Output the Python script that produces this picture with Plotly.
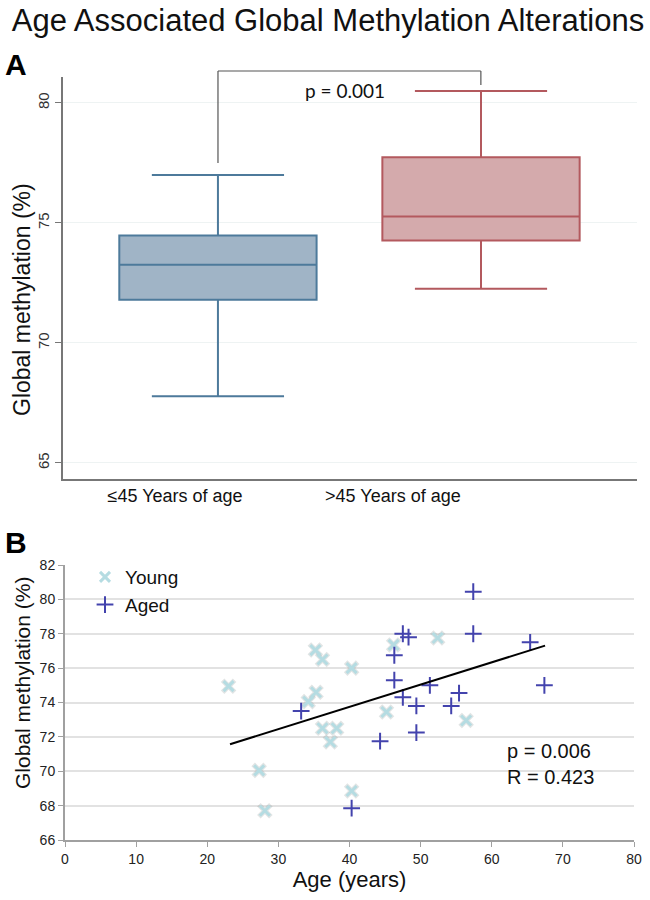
import plotly.graph_objects as go

# Panel A: box summaries
groups = ['≤45 Years of age', '>45 Years of age']
box_q1 = [71.8, 74.27]
box_median = [73.26, 75.27]
box_q3 = [74.48, 77.74]
box_low = [67.78, 72.26]
box_high = [77.0, 80.5]
p_text_a = 'p = 0.001'

# Panel B: individual samples
young_age = [23, 35.2, 36.2, 40.3, 35.3, 34.2, 36.2, 38.2, 37.3, 27.3, 40.3, 28.1, 45.2, 46.2, 52.4, 56.4]
young_meth = [74.95, 77.05, 76.5, 76.0, 74.6, 74.05, 72.5, 72.5, 71.7, 70.05, 68.85, 67.7, 73.45, 77.35, 77.75, 72.95]
aged_age = [33.2, 44.3, 46.3, 46.3, 57.4, 57.4, 47.5, 48.3, 65.4, 67.4, 51.3, 47.5, 49.4, 55.4, 54.3, 49.4, 40.3]
aged_meth = [73.5, 71.75, 76.75, 75.3, 80.45, 78.0, 78.0, 77.8, 77.5, 75.0, 75.0, 74.3, 73.8, 74.55, 73.8, 72.25, 67.85]
fit_age = [23.2, 67.5]
fit_meth = [71.57, 77.31]
stats_b = 'p = 0.006<br>R = 0.423'

box_fill = ['#a0b4c6', '#d4aaac']
box_line = ['#4d7a9b', '#b3595e']
label_pos = [-0.163, 0.665]

W, H = 650, 900


def px_x(x):
    return x / W


def px_y(y):
    return 1 - y / H


fig = go.Figure()

for i in range(2):
    fig.add_trace(go.Box(
        x=[i], q1=[box_q1[i]], median=[box_median[i]], q3=[box_q3[i]],
        lowerfence=[box_low[i]], upperfence=[box_high[i]],
        width=0.75, whiskerwidth=0.67,
        fillcolor=box_fill[i], line=dict(color=box_line[i], width=2),
        xaxis='x', yaxis='y', showlegend=False, hoverinfo='skip'))

# soft shadow under the young markers
fig.add_trace(go.Scatter(
    x=young_age, y=young_meth, mode='markers', xaxis='x2', yaxis='y2',
    marker=dict(symbol='x-thin', size=12, line=dict(color='rgba(120,130,130,0.22)', width=5)),
    showlegend=False, hoverinfo='skip'))
fig.add_trace(go.Scatter(
    x=young_age, y=young_meth, mode='markers', name='Young', xaxis='x2', yaxis='y2',
    marker=dict(symbol='x-thin', size=10, color='#b5dce2', line=dict(color='#b5dce2', width=3))))
fig.add_trace(go.Scatter(
    x=aged_age, y=aged_meth, mode='markers', name='Aged', xaxis='x2', yaxis='y2',
    marker=dict(symbol='cross-thin', size=12, color='#4343ad', line=dict(color='#4343ad', width=2))))
fig.add_trace(go.Scatter(
    x=fit_age, y=fit_meth, mode='lines', xaxis='x2', yaxis='y2',
    line=dict(color='black', width=2), showlegend=False, hoverinfo='skip'))

bracket = dict(color='#555', width=1.2)

fig.update_layout(
    width=W, height=H,
    margin=dict(l=0, r=0, t=0, b=0),
    paper_bgcolor='white', plot_bgcolor='white',
    font=dict(family='Liberation Sans, Arial', color='#111'),
    title=dict(text='Age Associated Global Methylation Alterations', x=px_x(328), xanchor='center',
               y=px_y(20), yanchor='middle', font=dict(size=31, color='#111')),
    xaxis=dict(domain=[px_x(63), px_x(637)], range=[-0.589, 1.593], tickvals=label_pos, ticktext=groups,
               automargin=False,
               showgrid=False, zeroline=False, showline=True, linecolor='#777', linewidth=1.5,
               ticks='', tickfont=dict(size=18, family='Liberation Sans Narrow, Arial Narrow, Liberation Sans')),
    yaxis=dict(domain=[px_y(479), px_y(77)], range=[64.33, 81.08], tickvals=[65, 70, 75, 80],
               automargin=False,
               tickangle=-90, ticks='outside', ticklen=6, tickcolor='#777',
               showgrid=True, gridcolor='#eef3f3', zeroline=False,
               showline=True, linecolor='#777', linewidth=1.5,
               tickfont=dict(size=15, color='#333')),
    xaxis2=dict(domain=[px_x(65), px_x(634)], range=[0, 80], dtick=10, anchor='y2', automargin=False,
                showgrid=False, zeroline=False, showline=True, linecolor='#a0a0a0', linewidth=2,
                ticks='outside', ticklen=5, tickcolor='#a0a0a0', tickfont=dict(size=14, color='#222'),
                title=dict(text='Age (years)', font=dict(size=22), standoff=4)),
    yaxis2=dict(domain=[px_y(840), px_y(565)], range=[66, 82], dtick=2, anchor='x2', automargin=False,
                showgrid=True, gridcolor='#e2e2e2', gridwidth=1.5, zeroline=False,
                showline=True, linecolor='#a0a0a0', linewidth=2,
                ticks='outside', ticklen=5, tickcolor='#a0a0a0', tickfont=dict(size=14, color='#222')),
    legend=dict(x=px_x(85), y=px_y(558), xanchor='left', yanchor='top', bgcolor='rgba(0,0,0,0)',
                font=dict(size=19), tracegroupgap=0, itemwidth=30),
    shapes=[
        dict(type='line', xref='x domain', yref='paper', x0=0.27, x1=0.27, y0=px_y(163), y1=px_y(71), line=bracket),
        dict(type='line', xref='x domain', yref='paper', x0=0.27, x1=0.728, y0=px_y(71), y1=px_y(71), line=bracket),
        dict(type='line', xref='x domain', yref='paper', x0=0.728, x1=0.728, y0=px_y(71), y1=px_y(85), line=bracket),
    ],
    annotations=[
        dict(text='<b>A</b>', x=px_x(16), y=px_y(64), xref='paper', yref='paper', xanchor='center', yanchor='middle',
             showarrow=False, font=dict(size=30, family='Liberation Sans', color='black')),
        dict(text='<b>B</b>', x=px_x(16), y=px_y(542), xref='paper', yref='paper', xanchor='center', yanchor='middle',
             showarrow=False, font=dict(size=30, family='Liberation Sans', color='black')),
        dict(text='Global methylation (%)', x=px_x(22), y=px_y(300), xref='paper', yref='paper',
             xanchor='center', yanchor='middle',
             textangle=-90, showarrow=False, font=dict(size=23, color='#111')),
        dict(text='Global methylation (%)', x=px_x(22), y=px_y(683), xref='paper', yref='paper',
             xanchor='center', yanchor='middle',
             textangle=-90, showarrow=False, font=dict(size=21, color='#111')),
        dict(text=p_text_a, x=0.483, y=80.5, xref='x', yref='y', showarrow=False,
             font=dict(size=19, family='Lato', color='#111')),
        dict(text=stats_b, x=px_x(505), y=px_y(764), xref='paper', yref='paper', xanchor='left', yanchor='middle',
             showarrow=False, align='left', font=dict(size=20, color='#111')),
    ],
)

# drop the browser's default 8px body margin so the figure fills the window
fig.write_html('out.html', config={'displayModeBar': False},
               post_script="document.body.style.margin='0';")
